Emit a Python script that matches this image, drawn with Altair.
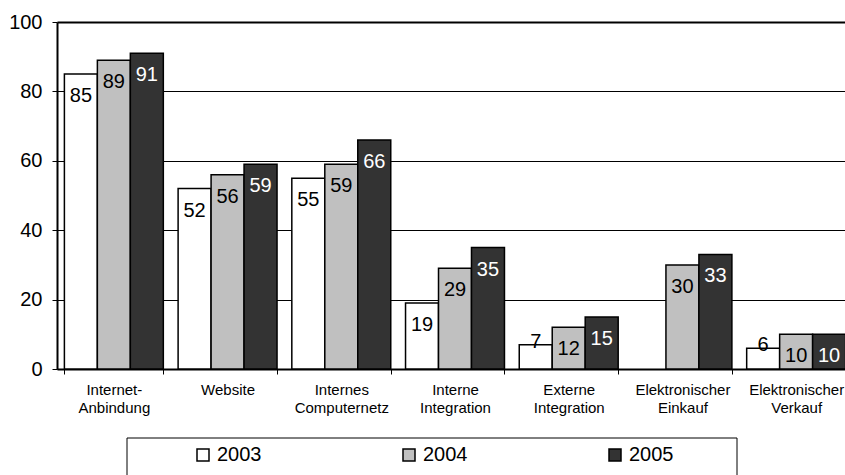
import altair as alt
import pandas as pd

categories = ["Internet-|Anbindung", "Website", "Internes|Computernetz",
              "Interne|Integration", "Externe|Integration",
              "Elektronischer|Einkauf", "Elektronischer|Verkauf"]
years = ["2003", "2004", "2005"]
v2003 = [85, 52, 55, 19, 7, None, 6]
v2004 = [89, 56, 59, 29, 12, 30, 10]
v2005 = [91, 59, 66, 35, 15, 33, 10]
colors = ["#FFFFFF", "#C0C0C0", "#333333"]

rows = []
for yr, vals in zip(years, [v2003, v2004, v2005]):
    for c, v in zip(categories, vals):
        if v is not None:
            rows.append({"cat": c, "year": yr, "value": v})
df = pd.DataFrame(rows)

FONT = "Liberation Sans"

x_enc = alt.X("cat:N", sort=categories, title=None,
              scale=alt.Scale(paddingInner=0.13, paddingOuter=0.065, range=[0, 796]),
              axis=alt.Axis(labelExpr="split(datum.label, '|')", labelFontSize=15,
                            labelColor="black", labelAngle=0, labelLineHeight=18,
                            labelPadding=8, tickBand="extent", tickSize=5,
                            tickColor="black", tickWidth=1, domainColor="black",
                            domainWidth=2, labelFont=FONT, grid=False))
xo_enc = alt.XOffset("year:N", sort=years, scale=alt.Scale(paddingInner=0, paddingOuter=0))
y_enc = alt.Y("value:Q", title=None,
              scale=alt.Scale(domain=[0, 100], nice=False),
              axis=alt.Axis(values=[0, 20, 40, 60, 80, 100], labelFontSize=20,
                            labelColor="black", labelPadding=10, tickSize=5,
                            tickColor="black", domainColor="black", domainWidth=2,
                            grid=True, gridColor="black",
                            gridWidth={"condition": {"test": "datum.value == 100", "value": 2}, "value": 1},
                            labelFont=FONT))

base = alt.Chart(df)

bars = base.mark_bar(stroke="black", strokeWidth=1.5).encode(
    x=x_enc, xOffset=xo_enc, y=y_enc,
    fill=alt.Fill("year:N", sort=years,
                  scale=alt.Scale(domain=years, range=colors),
                  legend=alt.Legend(title=None, orient="none", legendX=136, legendY=423,
                                    direction="horizontal", columns=3, columnPadding=137,
                                    symbolType="square", symbolSize=144,
                                    symbolStrokeColor="black", symbolStrokeWidth=1.5,
                                    labelFontSize=20, labelOffset=4, labelColor="black",
                                    labelFont=FONT, padding=0)),
)

txt_color = alt.condition(alt.datum.year == "2005", alt.value("white"), alt.value("black"))

labels_in = base.transform_filter("datum.value >= 9").mark_text(
    baseline="middle", dy=22, fontSize=20, font=FONT).encode(
    x=alt.X("cat:N", sort=categories), xOffset=alt.XOffset("year:N", sort=years),
    y="value:Q", text="value:Q", color=txt_color)

labels_out = base.transform_filter("datum.value < 9").mark_text(
    baseline="middle", dy=-3, fontSize=20, font=FONT).encode(
    x=alt.X("cat:N", sort=categories), xOffset=alt.XOffset("year:N", sort=years),
    y="value:Q", text="value:Q", color=txt_color)

legend_box = alt.Chart(pd.DataFrame({"k": [0]})).mark_rect(
    fill="transparent", stroke="black", strokeWidth=1).encode(
    x=alt.value(70), x2=alt.value(680), y=alt.value(416), y2=alt.value(490))

chart = alt.layer(bars, labels_in, labels_out, legend_box).properties(
    width=788, height=347,
    autosize=alt.AutoSizeParams(type="none"),
    padding={"left": 57, "top": 22, "right": 0, "bottom": 106},
).configure_view(stroke=None).configure(font=FONT, background="white")

chart.save("out.html", embed_options={"renderer": "svg", "actions": False})
